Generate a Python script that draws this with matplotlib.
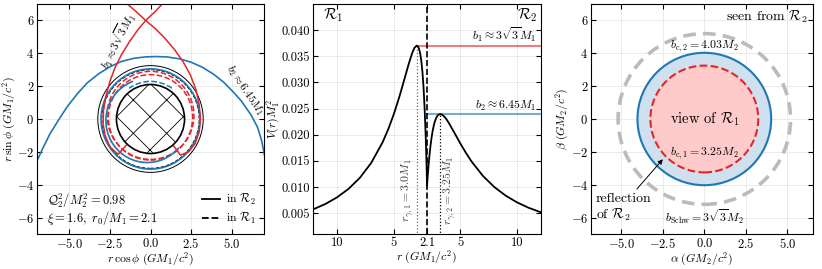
"""Thin-shell wormhole: photon orbits, effective potential and shadow."""

import matplotlib

matplotlib.use("Agg")
import matplotlib.pyplot as plt
from matplotlib.lines import Line2D
from matplotlib.patches import Arc, Circle

plt.rcParams.update({
    "font.family": "serif",
    "font.serif": ["cmr10"],
    "mathtext.fontset": "cm",
    "axes.formatter.use_mathtext": True,
    "font.size": 9,
    "axes.labelsize": 8.5,
    "axes.linewidth": 0.8,
    "xtick.direction": "in",
    "ytick.direction": "in",
    "xtick.top": True,
    "ytick.right": True,
    "xtick.major.size": 3.5,
    "ytick.major.size": 3.5,
    "xtick.major.pad": 2.0,
    "ytick.major.pad": 2.0,
    "hatch.linewidth": 0.6,
})

RED = "#e3262a"
BLUE = "#1f77b4"
GRID = "#e6e6e6"

# ---- panel 1: photon orbits ----
r_throat = 2.1
r_ph1, r_ph2 = 3.0, 3.25

blue_arc_x = [-7.05, -6.6, -6.2, -5.6, -5.1, -4.5, -3.9, -3.2, -2.5, -1.8, -1.0, -0.3,
              0.3, 1.0, 1.8, 2.5, 3.2, 3.9, 4.5, 5.1, 5.6, 6.2, 6.6, 6.85, 7.05]
blue_arc_y = [-2.65, -1.7, -0.9, 0.05, 0.8, 1.55, 2.2, 2.75, 3.18, 3.5, 3.7, 3.78,
              3.8, 3.78, 3.66, 3.46, 3.15, 2.72, 2.25, 1.65, 1.1, 0.25, -0.5, -1.3, -2.3]

red_a_x = [-1.55, -0.9, -0.3, 0.3, 0.9, 1.5, 2.0, 2.45, 2.8, 3.0, 3.08, 3.0, 2.75,
           2.35, 1.85, 1.4]
red_a_y = [7.1, 6.55, 6.0, 5.5, 4.9, 4.2, 3.5, 2.7, 1.8, 0.9, 0.0, -0.8, -1.5,
           -2.0, -2.2, -1.6]
red_b_x = [0.82, 0.3, -0.3, -0.8, -1.3, -1.8, -2.2, -2.5, -2.75, -2.9, -2.92, -2.8,
           -2.5, -2.0, -1.5]
red_b_y = [7.1, 6.55, 6.0, 5.4, 4.7, 3.9, 3.1, 2.3, 1.4, 0.5, -0.3, -1.0, -1.7,
           -2.15, -1.6]

# ---- panel 2: effective potential ----
r_left = [12.1, 11.0, 10.0, 9.0, 8.0, 7.0, 6.0, 5.5, 5.0, 4.5, 4.0, 3.7, 3.4, 3.2,
          3.0, 2.9, 2.8, 2.7, 2.6, 2.5, 2.4, 2.3, 2.2, 2.15, 2.1]
V_left = [0.0057, 0.00676, 0.0080, 0.0096, 0.01172, 0.01458, 0.01852, 0.02104,
          0.0240, 0.02743, 0.03125, 0.03356, 0.03562, 0.03662, 0.03704, 0.0369,
          0.03644, 0.03557, 0.03414, 0.0320, 0.02894, 0.02465, 0.01878, 0.0151, 0.0108]
r_right = [2.1, 2.15, 2.2, 2.3, 2.4, 2.5, 2.6, 2.7, 2.8, 2.9, 3.0, 3.1, 3.25, 3.4,
           3.6, 3.8, 4.0, 4.5, 5.0, 5.5, 6.0, 7.0, 8.0, 9.0, 10.0, 11.0, 12.1]
V_right = [0.01022, 0.01176, 0.01318, 0.01568, 0.01775, 0.01943, 0.02076, 0.0218,
           0.02259, 0.02317, 0.02357, 0.02381, 0.02394, 0.02386, 0.02351, 0.02297,
           0.0223, 0.02038, 0.01841, 0.01657, 0.0149, 0.01212, 0.00999, 0.00834,
           0.00705, 0.00603, 0.00514]
V_peak1, V_peak2 = 0.03704, 0.02394
r_ticks = [10, 5, 2.1, 5, 10]

# ---- panel 3: shadow radii (units of M2) ----
b_schw, b_c2, b_c1 = 5.196, 4.03, 3.25

fig = plt.figure(figsize=(8.22, 2.69), dpi=100)
ax1 = fig.add_axes([37 / 822, 35 / 269, 227 / 822, 230 / 269])
ax2 = fig.add_axes([313 / 822, 35 / 269, 228 / 822, 230 / 269])
ax3 = fig.add_axes([591 / 822, 35 / 269, 222 / 822, 230 / 269])

for ax in (ax1, ax2, ax3):
    ax.grid(color=GRID, lw=0.6, zorder=0)
    ax.set_axisbelow(True)

# panel 1
ax1.add_patch(Circle((0, 0), r_throat, facecolor="white", edgecolor="black",
                     hatch="x", lw=1.2, zorder=3))
ax1.add_patch(Circle((0, 0), r_ph2, fill=False, ec="black", lw=0.7, zorder=2))
ax1.add_patch(Circle((0, 0), r_ph1, fill=False, ec="black", lw=0.7, ls="--", zorder=2))
ax1.add_patch(Circle((0, 0.22), 2.68, fill=False, ec=RED, lw=1.1, ls="--", zorder=2))
ax1.add_patch(Circle((0, 0.1), 2.6, fill=False, ec=RED, lw=1.1, ls="--", zorder=2))
ax1.add_patch(Arc((0, 0), 2 * 2.29, 2 * 2.29, theta1=55, theta2=125,
                  ec=BLUE, lw=1.1, ls="--", zorder=2))
ax1.add_patch(Circle((0, 0), 3.05, fill=False, ec=BLUE, lw=1.2, zorder=2))
ax1.add_patch(Arc((-0.2, -0.1), 2 * 2.55, 2 * 2.55, theta1=110, theta2=320,
                  ec=BLUE, lw=1.2, zorder=2))
ax1.plot(blue_arc_x, blue_arc_y, color=BLUE, lw=1.2, zorder=2)
ax1.plot(red_a_x, red_a_y, color=RED, lw=1.1, zorder=2)
ax1.plot(red_b_x, red_b_y, color=RED, lw=1.1, zorder=2)

ax1.text(-2.05, 4.75, r"$b_1\approx3\sqrt{3}M_1$", rotation=63, fontsize=8,
         ha="center", va="center")
ax1.text(5.85, 1.75, r"$b_2\approx6.45M_1$", rotation=-56, fontsize=8,
         ha="center", va="center")
ax1.text(-6.4, -5.0, r"$\mathcal{Q}_2^2/M_2^2=0.98$", fontsize=9, va="center")
ax1.text(-6.4, -6.05, r"$\xi=1.6,\ r_0/M_1=2.1$", fontsize=9, va="center")
handles = [Line2D([], [], color="black", lw=1.3),
           Line2D([], [], color="black", lw=1.3, ls="--")]
ax1.legend(handles, [r"in $\mathcal{R}_2$", r"in $\mathcal{R}_1$"], loc="lower right",
           frameon=False, fontsize=8.5, handlelength=1.5, handletextpad=0.5,
           labelspacing=0.3, borderaxespad=0.3)
ax1.set_xlim(-7, 7)
ax1.set_ylim(-7, 7)
ax1.set_xticks([-5, -2.5, 0, 2.5, 5])
ax1.set_yticks([-6, -4, -2, 0, 2, 4, 6])
ax1.set_xlabel(r"$r\,\cos\phi\ (GM_1/c^2)$", labelpad=0)
ax1.set_ylabel(r"$r\,\sin\phi\ (GM_1/c^2)$", labelpad=-1)

# panel 2: R1 to the left of the throat, R2 to the right
x_left = [-(r - r_throat) for r in r_left]
x_right = [r - r_throat for r in r_right]
ax2.plot(x_left + x_right, V_left + V_right, color="black", lw=1.3, zorder=3)
ax2.axvline(0, color="black", ls="--", lw=1.2, zorder=4)
x_ph1, x_ph2 = -(r_ph1 - r_throat), r_ph2 - r_throat
ax2.plot([x_ph1, x_ph1], [0, V_peak1], color="#666666", ls=":", lw=0.9, zorder=2)
ax2.plot([x_ph2, x_ph2], [0, V_peak2], color="black", ls=":", lw=0.9, zorder=2)
ax2.plot([x_ph1, 10], [V_peak1, V_peak1], color=RED, alpha=0.6, lw=1.5, zorder=2)
ax2.plot([0, 10], [V_peak2, V_peak2], color=BLUE, alpha=0.6, lw=1.5, zorder=2)
ax2.text(9.6, V_peak1 + 0.0003, r"$b_1\approx3\sqrt{3}M_1$", fontsize=8.5,
         ha="right", va="bottom")
ax2.text(9.6, V_peak2 + 0.0003, r"$b_2\approx6.45M_1$", fontsize=8.5,
         ha="right", va="bottom")
ax2.text(-1.7, 0.0093, r"$r_{\gamma,1}=3.0M_1$", rotation=90, fontsize=8.5,
         ha="center", va="center", color="#444444")
ax2.text(2.0, 0.0093, r"$r_{\gamma,2}=3.25M_1$", rotation=90, fontsize=8.5,
         ha="center", va="center", color="#444444")
ax2.text(-8.2, 0.0429, r"$\mathcal{R}_1$", fontsize=11, ha="center", va="center")
ax2.text(9.7, 0.0429, r"$\mathcal{R}_2$", fontsize=11, ha="right", va="center")
ax2.set_xlim(-10, 10)
ax2.set_ylim(0.001, 0.045)
tick_pos = [-(r - r_throat) for r in r_ticks[:2]] + [0] + [r - r_throat for r in r_ticks[3:]]
ax2.set_xticks(tick_pos)
ax2.set_xticklabels([f"{t:g}" for t in r_ticks])
ax2.set_yticks([0.005, 0.010, 0.015, 0.020, 0.025, 0.030, 0.035, 0.040])
ax2.set_yticklabels([f"{t:.3f}" for t in ax2.get_yticks()])
ax2.set_xlabel(r"$r\ (GM_1/c^2)$", labelpad=0)
ax2.set_ylabel(r"$V(r)M_1^2$", labelpad=0)

# panel 3
ax3.add_patch(Circle((0, 0), b_schw, fill=False, ec="#bbbbbb", lw=2.6,
                     ls=(0, (3.5, 2)), zorder=2))
ax3.add_patch(Circle((0, 0), b_c2, fc="#cfe0ef", ec=BLUE, lw=1.5, zorder=2))
ax3.add_patch(Circle((0, 0), b_c1, fc="#ffcaca", ec=RED, lw=1.5, ls="--", zorder=3))
ax3.text(0, 0, r"view of $\mathcal{R}_1$", fontsize=10.5, ha="center", va="center")
ax3.text(0, 4.42, r"$b_{\rm c,2}=4.03M_2$", fontsize=8.5, ha="center", va="center")
ax3.text(0, -2.1, r"$b_{\rm c,1}=3.25M_2$", fontsize=8.5, ha="center", va="center")
ax3.text(0, -5.95, r"$b_{\rm Schw}=3\sqrt{3}M_2$", fontsize=8.5, ha="center", va="center")
ax3.text(6.25, 6.25, r"seen from $\mathcal{R}_2$", fontsize=10, ha="right", va="center")
ax3.annotate("reflection\nof $\\mathcal{R}_2$", xy=(-2.5, -2.45), xytext=(-6.55, -5.4),
             fontsize=10, ha="left", va="center", linespacing=1.1,
             arrowprops=dict(arrowstyle="-|>", color="black", lw=0.7,
                             relpos=(0.68, 1.0), shrinkA=1, shrinkB=0,
                             mutation_scale=7))
ax3.set_xlim(-6.83, 6.55)
ax3.set_ylim(-7, 7)
ax3.set_xticks([-5, -2.5, 0, 2.5, 5])
ax3.set_yticks([-6, -4, -2, 0, 2, 4, 6])
ax3.set_xlabel(r"$\alpha\ (GM_2/c^2)$", labelpad=0)
ax3.set_ylabel(r"$\beta\ (GM_2/c^2)$", labelpad=0)

fig.savefig("out.png", dpi=100)
